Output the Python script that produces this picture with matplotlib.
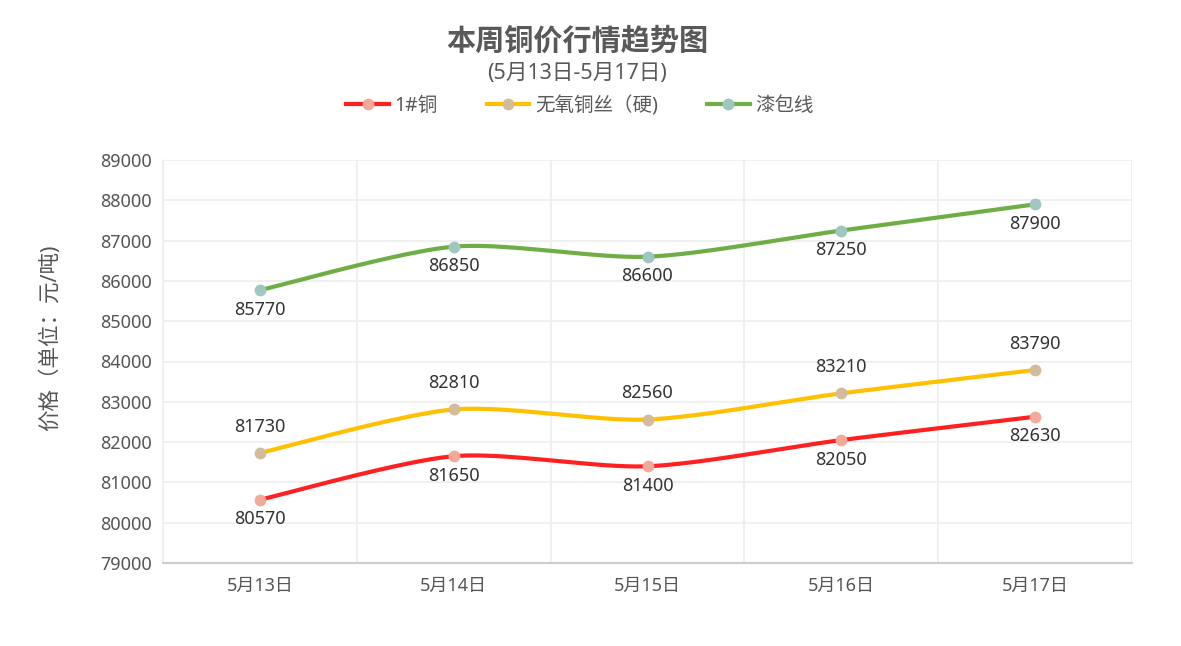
import numpy as np
import matplotlib
matplotlib.use("Agg")
import matplotlib.pyplot as plt
from matplotlib.lines import Line2D

plt.rcParams['font.family'] = ['Noto Sans', 'Noto Sans CJK SC', 'DejaVu Sans']

categories = ["5月13日", "5月14日", "5月15日", "5月16日", "5月17日"]
series_names = ["1#铜", "无氧铜丝（硬)", "漆包线"]
copy_1 = [80570, 81650, 81400, 82050, 82630]
wire_hard = [81730, 82810, 82560, 83210, 83790]
enameled = [85770, 86850, 86600, 87250, 87900]
line_colors = ["#FF2121", "#FFC000", "#70AD47"]
marker_colors = ["#F4A898", "#D3BC9B", "#9FC6BF"]
label_pos = ["below", "above", "below"]
yticks = list(range(79000, 89001, 1000))

def smooth(xs, ys, n=40):
    xs = np.asarray(xs, float); ys = np.asarray(ys, float)
    px, py = [], []
    for i in range(len(xs) - 1):
        p0 = (xs[max(i-1, 0)], ys[max(i-1, 0)])
        p1 = (xs[i], ys[i]); p2 = (xs[i+1], ys[i+1])
        p3 = (xs[min(i+2, len(xs)-1)], ys[min(i+2, len(xs)-1)])
        t = np.linspace(0, 1, n)
        m1x = (p2[0]-p0[0]) / 2 * 0.8; m1y = (p2[1]-p0[1]) / 2 * 0.8
        m2x = (p3[0]-p1[0]) / 2 * 0.8; m2y = (p3[1]-p1[1]) / 2 * 0.8
        h00 = 2*t**3 - 3*t**2 + 1; h10 = t**3 - 2*t**2 + t
        h01 = -2*t**3 + 3*t**2; h11 = t**3 - t**2
        px.extend(h00*p1[0] + h10*m1x + h01*p2[0] + h11*m2x)
        py.extend(h00*p1[1] + h10*m1y + h01*p2[1] + h11*m2y)
    return np.array(px), np.array(py)

fig = plt.figure(figsize=(11.81, 6.46), dpi=100)
ax = fig.add_axes([163/1181, 1-563/646, (1132-163)/1181, (563-160)/646])

x = np.arange(len(categories))
all_series = [copy_1, wire_hard, enameled]
handles = []
for vals, lc, mc, pos, name in zip(all_series, line_colors, marker_colors, label_pos, series_names):
    sx, sy = smooth(x, vals)
    ax.plot(sx, sy, color=lc, lw=3, solid_capstyle='round', zorder=3)
    ax.plot(x, vals, 'o', color=mc, ms=8.5, zorder=4, markeredgewidth=0)
    for xi, v in zip(x, vals):
        off = 19 if pos == "above" else -14
        ax.annotate(str(v), (xi, v), xytext=(0, off), textcoords='offset points',
                    ha='center', va='center', fontsize=13, color='#333333')
    handles.append(Line2D([0], [0], color=lc, lw=3, marker='o', markersize=8.5,
                          markerfacecolor=mc, markeredgewidth=0))

ax.set_xlim(-0.5, len(categories) - 0.5)
ax.set_ylim(79000, 89000)
ax.set_yticks(yticks)
ax.set_yticklabels([str(t) for t in yticks])
ax.set_xticks(x)
ax.set_xticklabels(categories)
ax.set_xticks(np.arange(-0.5, len(categories), 1), minor=True)
ax.grid(True, which='minor', axis='x', color='#EEEEEE', lw=1.2)
ax.grid(True, which='major', axis='y', color='#EEEEEE', lw=1.2)
ax.set_axisbelow(True)
ax.tick_params(axis='both', which='both', length=0, labelsize=13, colors='#555555')
ax.tick_params(axis='x', pad=10)
ax.tick_params(axis='y', pad=8)
for s in ['top', 'right']:
    ax.spines[s].set_visible(False)
ax.spines['left'].set_color('#EEEEEE')
ax.spines['left'].set_linewidth(1.2)
ax.spines['bottom'].set_color('#CCCCCC')
ax.spines['bottom'].set_linewidth(1.5)
ax.set_ylabel("价格（单位：元/吨)", fontsize=15.5, color='#555555')
ax.yaxis.set_label_coords((61 - 163) / 969, (563 - 338) / 403)

fig.text(577/1181, 1-42/646, "本周铜价行情趋势图", ha='center', va='center',
         fontsize=21, fontweight='bold', color='#595959')
fig.text(577/1181, 1-73/646, "(5月13日-5月17日)", ha='center', va='center',
         fontsize=15.5, color='#595959')

leg = fig.legend(handles, series_names, loc='center', bbox_to_anchor=(580/1181, 1-106/646),
                 ncol=3, frameon=False, fontsize=14, handlelength=2.2, handletextpad=0.3,
                 columnspacing=2.5)
for t in leg.get_texts():
    t.set_color('#595959')

fig.savefig("out.png", dpi=100)
